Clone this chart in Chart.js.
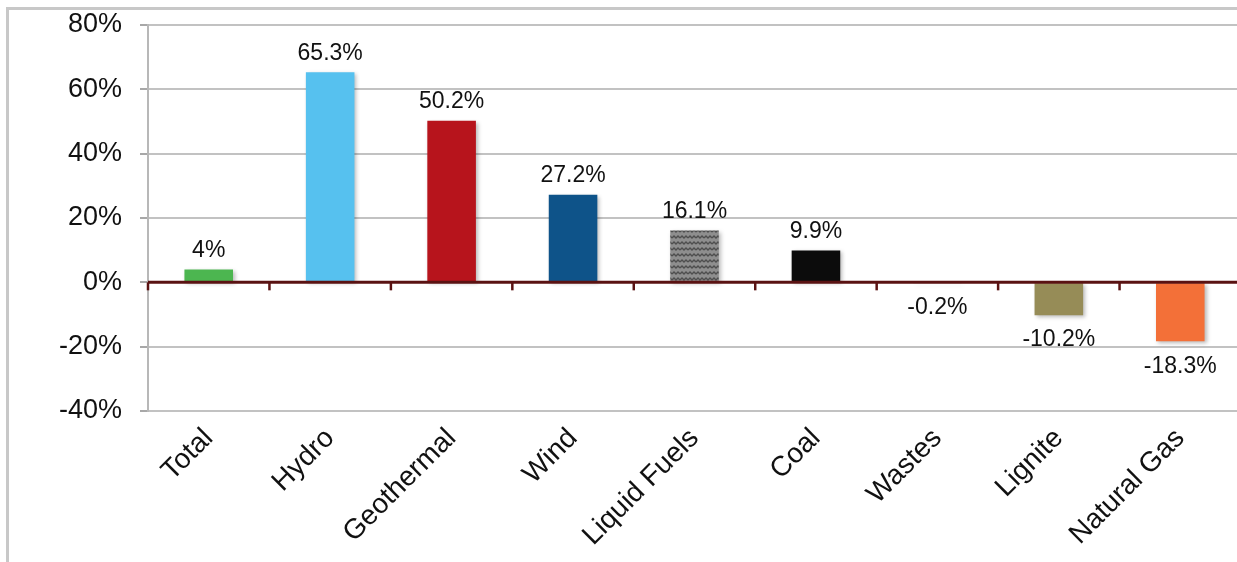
<!DOCTYPE html>
<html>
<head>
<meta charset="utf-8">
<script src="https://cdn.jsdelivr.net/npm/chart.js@4.4.1/dist/chart.umd.min.js"></script>
<style>
    html, body { margin: 0; padding: 0; background: #fff; overflow: hidden; }
    #frame {
        position: absolute; left: 6px; top: 7px; width: 1300px; height: 600px;
        border-left: 3px solid #c8c8c8; border-top: 3px solid #c8c8c8;
    }
    #wrap { position: absolute; left: 0; top: 0; width: 1246px; height: 562px; }
</style>
</head>
<body>
<div id="frame"></div>
<div id="wrap"><canvas id="changeChart"></canvas></div>
<script>
const categories = ['Total', 'Hydro', 'Geothermal', 'Wind', 'Liquid Fuels', 'Coal', 'Wastes', 'Lignite', 'Natural Gas'];
const changes = [4, 65.3, 50.2, 27.2, 16.1, 9.9, -0.2, -10.2, -18.3];
const valueLabels = ['4%', '65.3%', '50.2%', '27.2%', '16.1%', '9.9%', '-0.2%', '-10.2%', '-18.3%'];
const yTicks = [-40, -20, 0, 20, 40, 60, 80];

const FONT = '"Liberation Sans", Arial, sans-serif';

// wavy grey fill used for the liquid fuels bar
const makeWavePattern = () => {
    const c = document.createElement('canvas');
    c.width = 8; c.height = 6;
    const g = c.getContext('2d');
    g.fillStyle = '#8e8e8e';
    g.fillRect(0, 0, 8, 6);
    g.strokeStyle = '#4e4e4e';
    g.lineWidth = 1.4;
    g.beginPath();
    g.moveTo(0, 4); g.lineTo(2, 2); g.lineTo(4, 4); g.lineTo(6, 2); g.lineTo(8, 4);
    g.stroke();
    return document.createElement('canvas').getContext('2d').createPattern(c, 'repeat');
};

const barColors = ['#4cb650', '#56c1ef', '#b7141c', '#0e5389', makeWavePattern(), '#0c0c0c', '#dcdcdc', '#968c57', '#f37038'];

const shadowPlugin = {
    id: 'barShadow',
    beforeDatasetsDraw(chart) {
        const ctx = chart.ctx;
        ctx.save();
        ctx.shadowColor = 'rgba(0,0,0,0.28)';
        ctx.shadowBlur = 4;
        ctx.shadowOffsetX = 2;
        ctx.shadowOffsetY = 2;
    },
    afterDatasetsDraw(chart) {
        chart.ctx.restore();
    }
};

const zeroLinePlugin = {
    id: 'zeroLine',
    afterDatasetsDraw(chart) {
        const ctx = chart.ctx;
        const x = chart.scales.x;
        const y0 = chart.scales.y.getPixelForValue(0);
        const area = chart.chartArea;
        ctx.save();
        ctx.strokeStyle = '#5a1212';
        ctx.lineWidth = 3;
        ctx.beginPath();
        ctx.moveTo(area.left, y0);
        ctx.lineTo(area.right, y0);
        ctx.stroke();
        ctx.lineWidth = 2.5;
        for (let i = 0; i <= categories.length; i++) {
            const px = i === 0 ? area.left : (i === categories.length ? area.right :
                (x.getPixelForValue(i - 1) + x.getPixelForValue(i)) / 2);
            ctx.beginPath();
            ctx.moveTo(px, y0);
            ctx.lineTo(px, y0 + 8);
            ctx.stroke();
        }
        ctx.restore();
    }
};

const valueLabelPlugin = {
    id: 'valueLabels',
    afterDatasetsDraw(chart) {
        const ctx = chart.ctx;
        const meta = chart.getDatasetMeta(0);
        ctx.save();
        ctx.font = '23px ' + FONT;
        ctx.fillStyle = '#111';
        ctx.textAlign = 'center';
        ctx.textBaseline = 'middle';
        meta.data.forEach((bar, i) => {
            const up = changes[i] >= 0;
            ctx.fillText(valueLabels[i], bar.x, bar.y + (up ? -19 : 25));
        });
        ctx.restore();
    }
};

const ctx = document.getElementById('changeChart').getContext('2d');
new Chart(ctx, {
    type: 'bar',
    data: {
        labels: categories,
        datasets: [{
            data: changes,
            backgroundColor: barColors,
            borderWidth: 0,
            barPercentage: 0.4,
            categoryPercentage: 1
        }]
    },
    options: {
        responsive: true,
        maintainAspectRatio: false,
        animation: false,
        layout: { padding: { top: 25, right: 5, left: 0, bottom: 0 } },
        plugins: {
            legend: { display: false },
            tooltip: { enabled: false }
        },
        scales: {
            x: {
                grid: { display: false },
                border: { display: false },
                ticks: {
                    color: '#111',
                    font: { family: FONT, size: 28 },
                    minRotation: 45,
                    maxRotation: 45,
                    padding: 3
                },
                afterFit: (s) => { s.height = 151; s.paddingLeft = 0; s.paddingRight = 0; }
            },
            y: {
                min: -40,
                max: 80,
                afterBuildTicks: (s) => { s.ticks = yTicks.map(v => ({ value: v })); },
                grid: {
                    color: (c) => c.tick && c.tick.value === 0 ? 'rgba(0,0,0,0)' : '#c2c2c2',
                    lineWidth: 2,
                    tickLength: 8,
                    tickColor: '#a8a8a8'
                },
                border: { color: '#b8b8b8', width: 2 },
                ticks: {
                    color: '#111',
                    font: { family: FONT, size: 27 },
                    padding: 18,
                    callback: (v) => v + '%'
                },
                afterFit: (s) => { s.width = 148; s.paddingTop = 0; s.paddingBottom = 0; }
            }
        }
    },
    plugins: [shadowPlugin, zeroLinePlugin, valueLabelPlugin]
});
</script>
</body>
</html>
